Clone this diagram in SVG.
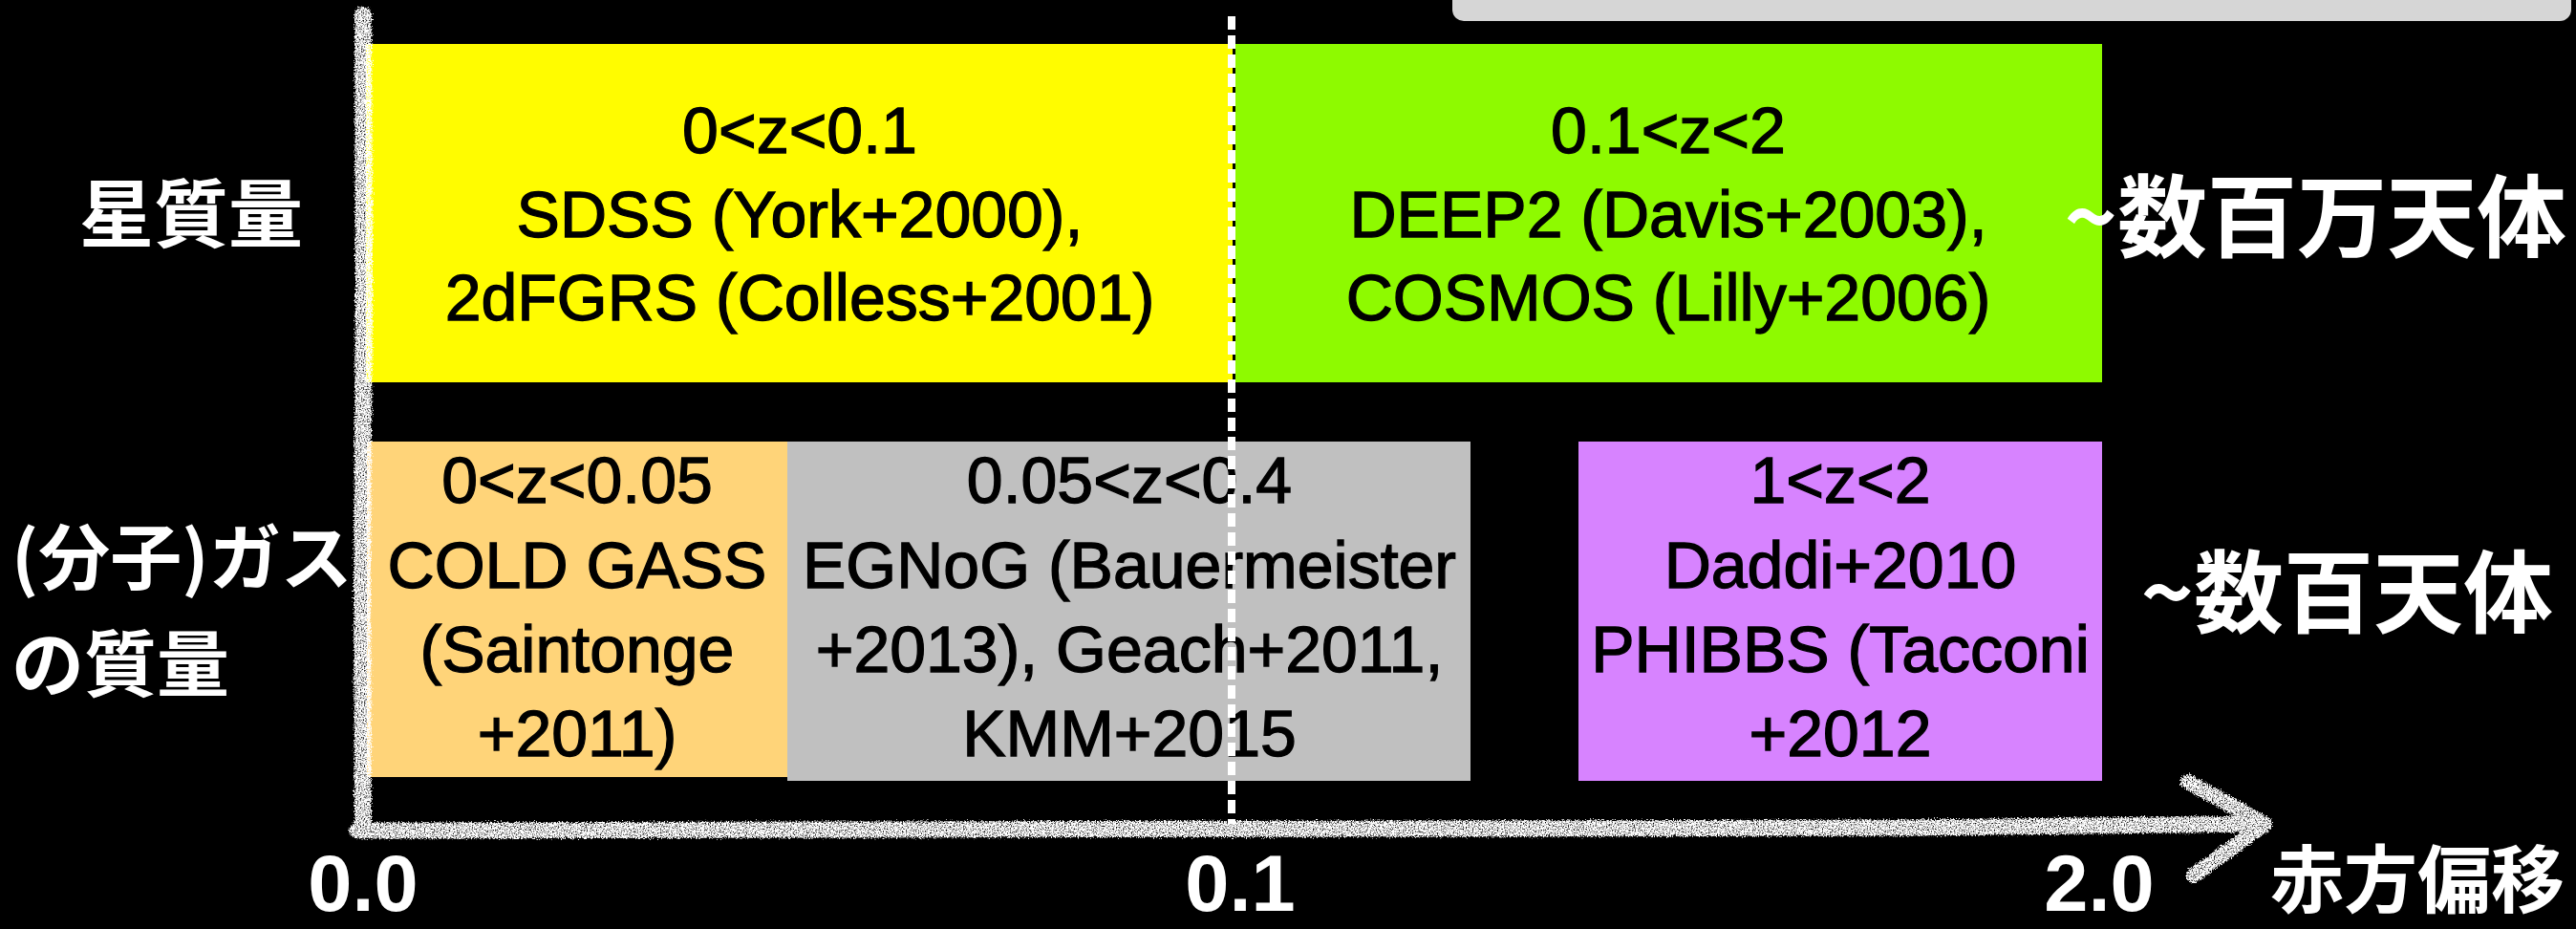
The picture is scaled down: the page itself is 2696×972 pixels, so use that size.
<svg xmlns="http://www.w3.org/2000/svg" width="2696" height="972" viewBox="0 0 2696 972">
<style>
.box text{font-family:"Liberation Sans",Arial,sans-serif;font-size:68px;fill:#000;stroke:#000;stroke-width:1.3px;text-anchor:middle}
.jp{font-family:"Noto Sans CJK JP","Noto Sans CJK SC",sans-serif;font-weight:bold;fill:#fff}
.num{font-family:"Liberation Sans",Arial,sans-serif;font-weight:bold;font-size:83px;fill:#fff;text-anchor:middle}
.chalk{fill:none;stroke:#fff;stroke-linecap:round;stroke-linejoin:round}
</style>
<defs>
<filter id="chalkf" filterUnits="userSpaceOnUse" x="0" y="0" width="2696" height="972">
<feTurbulence type="fractalNoise" baseFrequency="0.7" numOctaves="2" seed="4" result="n"/>
<feDisplacementMap in="SourceGraphic" in2="n" scale="7" xChannelSelector="R" yChannelSelector="G" result="d"/>
<feColorMatrix in="n" type="matrix" values="0 0 0 0 0 0 0 0 0 0 0 0 0 0 0 0 0 0 -3 2.4" result="m"/>
<feComposite in="d" in2="m" operator="in"/>
</filter>
</defs>
<rect x="0" y="0" width="2696" height="972" fill="#000"/>

<g id="note">
<rect x="1520" y="-30" width="1171" height="52" rx="12" fill="#d6d6d6"/>
</g>

<g id="stellar-low" class="box">
<rect x="383" y="46" width="909" height="354" fill="#fffc00"/>
<text x="837" y="160">0&lt;z&lt;0.1</text>
<text x="837" y="248">SDSS (York+2000),</text>
<text x="837" y="335">2dFGRS (Colless+2001)</text>
</g>

<g id="stellar-high" class="box">
<rect x="1292" y="46" width="908" height="354" fill="#8efa00"/>
<text x="1746" y="160">0.1&lt;z&lt;2</text>
<text x="1746" y="248">DEEP2 (Davis+2003),</text>
<text x="1746" y="335">COSMOS (Lilly+2006)</text>
</g>

<g id="gas-coldgass" class="box">
<rect x="384" y="462" width="440" height="351" fill="#ffd479"/>
<text x="604" y="526">0&lt;z&lt;0.05</text>
<text x="604" y="615">COLD GASS</text>
<text x="604" y="703">(Saintonge</text>
<text x="604" y="791">+2011)</text>
</g>

<g id="gas-egnog" class="box">
<rect x="824" y="462" width="715" height="355" fill="#c0c0c0"/>
<text x="1182" y="526">0.05&lt;z&lt;0.4</text>
<text x="1182" y="615">EGNoG (Bauermeister</text>
<text x="1182" y="703">+2013), Geach+2011,</text>
<text x="1182" y="791">KMM+2015</text>
</g>

<g id="gas-phibbs" class="box">
<rect x="1652" y="462" width="548" height="355" fill="#d783ff"/>
<text x="1926" y="526">1&lt;z&lt;2</text>
<text x="1926" y="615">Daddi+2010</text>
<text x="1926" y="703">PHIBBS (Tacconi</text>
<text x="1926" y="791">+2012</text>
</g>

<g id="labels">
<text class="jp" x="200" y="253" font-size="78" text-anchor="middle">星質量</text>
<text class="jp" x="12" y="611" font-size="75">(分子)ガス</text>
<text class="jp" x="12" y="723" font-size="76">の質量</text>
<text class="jp" x="2686" y="262" font-size="94" text-anchor="end">~数百万天体</text>
<text class="jp" x="2672" y="655" font-size="94" text-anchor="end">~数百天体</text>
<text class="jp" x="2684" y="949" font-size="77" text-anchor="end">赤方偏移</text>
<text class="num" x="380" y="953">0.0</text>
<text class="num" x="1298" y="953">0.1</text>
<text class="num" x="2197" y="953">2.0</text>
</g>

<g id="connectors">
<line x1="1291.5" y1="46" x2="1291.5" y2="400" stroke="#000" stroke-width="3"/>
<line x1="1289" y1="17" x2="1289" y2="862" stroke="#fff" stroke-width="8" stroke-dasharray="14 6"/>
<g filter="url(#chalkf)">
<path class="chalk" d="M380,16 L381,300 L379,600 L380,868" stroke-width="18"/>
<path class="chalk" d="M374,869 L900,868 L1500,867 L2000,866 L2366,862" stroke-width="17"/>
<path class="chalk" d="M2290,818 L2370,862 L2296,916" stroke-width="16"/>
</g>
</g>
</svg>
